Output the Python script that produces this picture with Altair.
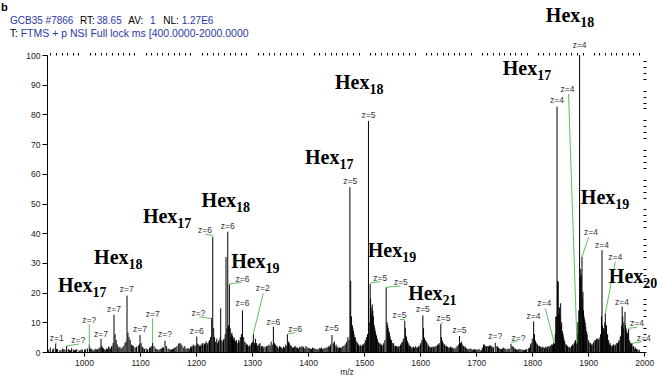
import altair as alt
import pandas as pd

# ---------------------------------------------------------------- spectrum
# centroid m/z values and relative abundance (% of base peak)
peak_mz = [
    940, 944, 949.5, 953, 957, 962, 966, 969, 974, 978, 983, 987, 991, 995,
    1003, 1006, 1009.5, 1012, 1016, 1020, 1024, 1027, 1030.4, 1033, 1036, 1040, 1044, 1047, 1050,
    1053.6, 1055.5, 1057.5, 1059.5, 1062, 1066, 1070, 1073, 1076.8, 1078.5, 1080.5, 1082.5, 1085,
    1088, 1091, 1094, 1097, 1100, 1102, 1105, 1108, 1111, 1114, 1117, 1120, 1122.5, 1125, 1128,
    1132, 1136, 1140, 1144.6, 1147, 1150, 1154, 1158, 1162, 1166, 1169, 1171, 1173, 1175, 1178,
    1182, 1186, 1190, 1193, 1196, 1198, 1201.3, 1203, 1206, 1209, 1212, 1215, 1218, 1221, 1224,
    1226, 1227.9, 1229.8, 1231.5, 1233, 1235, 1238, 1241, 1244, 1246, 1248, 1250, 1252, 1253.5,
    1256.6, 1258, 1259.5, 1261, 1263, 1265, 1267, 1269, 1271, 1273, 1276, 1279, 1282.8, 1285,
    1287, 1290, 1293, 1296, 1299, 1302.3, 1304, 1306, 1308, 1311, 1314, 1317, 1320, 1323, 1326,
    1330, 1334, 1338, 1340, 1343, 1346, 1349, 1352, 1356, 1360, 1363, 1367, 1370, 1374, 1377,
    1381, 1385, 1389, 1392, 1396, 1400, 1404, 1408, 1412, 1416, 1420, 1424, 1428, 1432, 1436,
    1440, 1442.5, 1445, 1448, 1451, 1454, 1458, 1462, 1466, 1469, 1471, 1474.6, 1476, 1477.5,
    1479, 1481, 1483, 1485, 1488, 1491, 1494, 1497, 1500, 1502, 1504, 1507.7, 1510.7, 1512.5,
    1514.5, 1516.5, 1519, 1521, 1523.5, 1526, 1529, 1532, 1535, 1539.3, 1541, 1543, 1545, 1547,
    1550, 1553, 1556, 1559, 1562, 1565, 1568, 1572.5, 1574.5, 1576.5, 1578.5, 1581, 1584, 1588,
    1592, 1595, 1598, 1601, 1604.8, 1607, 1609, 1612, 1615, 1618, 1621, 1624, 1628, 1631, 1634,
    1636.8, 1639, 1641, 1644, 1647, 1650, 1654, 1658, 1662, 1666, 1670.2, 1672, 1675, 1678, 1681,
    1685, 1689, 1693, 1697, 1701, 1705, 1709, 1713, 1716, 1719, 1722, 1725, 1728, 1731, 1734,
    1738, 1741, 1745, 1749, 1753, 1757, 1762, 1764, 1767, 1770, 1774, 1778, 1782, 1786, 1790,
    1795, 1798, 1800, 1802.5, 1805, 1807, 1810, 1813, 1816, 1819, 1822, 1825, 1828, 1831, 1834,
    1837, 1839.8, 1842, 1844.2, 1846.4, 1848.5, 1850.7, 1852.5, 1855, 1857, 1860, 1863, 1866,
    1869, 1872, 1875, 1877, 1879.8, 1881.5, 1884.5, 1886.5, 1888.8, 1890.5, 1892.5, 1894.5, 1897,
    1900, 1903, 1906, 1909, 1912, 1915, 1918, 1921, 1924.5, 1926.5, 1928.5, 1930.4, 1932.5,
    1934.5, 1936.5, 1939, 1942, 1945, 1948, 1951, 1954, 1957, 1960.5, 1962.5, 1965.5, 1967.5,
    1969.5, 1972, 1974, 1976, 1978, 1981, 1984, 1987, 1991,
]
peak_rel = [
    1.5, 0.8, 2.7, 1.0, 0.6, 1.2, 0.8, 2.0, 0.7, 1.3, 0.6, 1.0, 0.5, 0.8,
    0.9, 1.2, 2.5, 1.0, 0.7, 1.1, 0.8, 1.4, 4.4, 1.5, 0.9, 1.2, 1.8, 1.0, 2.0,
    12.5, 6.0, 4.0, 2.5, 1.5, 1.2, 2.0, 3.0, 19.0, 6.5, 5.0, 4.0, 2.5,
    2.0, 1.5, 1.8, 2.2, 5.7, 3.0, 1.5, 1.0, 1.2, 0.8, 1.5, 2.0, 3.1, 2.0, 1.2,
    0.8, 1.0, 1.5, 3.8, 2.0, 1.2, 0.8, 1.0, 1.5, 2.0, 2.8, 3.0, 2.8, 2.2, 1.5,
    1.0, 1.3, 1.8, 2.2, 2.5, 2.0, 5.2, 2.8, 2.0, 2.5, 3.0, 2.8, 3.5, 3.0, 4.0,
    5.0, 11.5, 38.8, 8.0, 5.0, 3.5, 3.0, 4.0, 14.7, 4.0, 3.5, 4.5, 6.0, 32.0,
    40.5, 9.0, 22.8, 8.0, 6.0, 5.5, 4.5, 4.0, 3.5, 3.0, 4.0, 5.0, 14.0, 5.0,
    3.5, 2.5, 2.0, 2.2, 3.0, 6.0, 3.0, 4.5, 3.0, 2.5, 3.0, 2.0, 1.5, 1.8, 2.0,
    2.5, 3.5, 8.5, 3.0, 2.0, 1.5, 2.0, 1.5, 1.8, 2.5, 6.0, 3.0, 2.0, 1.5, 2.0,
    1.5, 1.8, 2.0, 1.5, 2.0, 1.5, 1.2, 1.5, 1.2, 1.0, 1.3, 1.5, 1.2, 1.5, 2.0,
    2.5, 5.7, 3.0, 2.0, 1.5, 1.2, 1.5, 2.0, 2.5, 3.5, 5.0, 55.5, 24.0, 12.0,
    9.0, 7.0, 5.0, 4.0, 3.0, 2.0, 2.0, 2.5, 3.0, 4.0, 5.0, 77.8, 23.0, 15.0,
    16.0, 12.0, 8.0, 6.0, 4.5, 3.0, 2.5, 2.0, 3.0, 21.8, 10.0, 8.0, 6.5, 4.5,
    3.0, 2.5, 2.0, 1.8, 2.0, 2.5, 3.5, 10.5, 5.5, 4.0, 3.0, 2.0, 1.5, 1.8,
    2.0, 1.5, 2.0, 3.0, 12.3, 5.0, 4.0, 3.0, 2.0, 1.5, 1.8, 1.5, 2.0, 2.5, 3.0,
    9.4, 4.0, 3.0, 2.5, 2.0, 1.5, 1.8, 1.5, 1.2, 2.0, 5.4, 3.0, 2.5, 2.0, 1.5,
    1.0, 1.2, 0.8, 1.0, 0.8, 1.0, 0.7, 2.5, 2.0, 2.0, 1.8, 2.2, 2.0, 1.5, 3.1,
    1.8, 1.2, 1.0, 1.5, 1.0, 1.2, 2.7, 2.0, 1.5, 1.0, 0.8, 1.0, 0.8, 0.7, 1.0,
    1.5, 3.0, 4.5, 10.3, 4.0, 3.0, 2.5, 2.0, 1.5, 1.8, 1.2, 1.5, 2.0, 1.5, 2.5,
    2.0, 2.9, 11.9, 82.6, 23.7, 15.0, 16.4, 10.0, 6.0, 4.0, 2.5, 2.0, 1.5,
    1.5, 2.5, 3.0, 4.0, 2.9, 10.0, 100.0, 28.0, 32.1, 20.3, 12.0, 10.0, 7.0,
    4.0, 3.0, 2.5, 3.0, 4.0, 4.5, 4.0, 5.0, 34.3, 8.0, 7.0, 13.0, 9.0,
    6.0, 4.0, 3.0, 2.0, 2.5, 2.0, 3.0, 3.5, 5.0, 15.3, 8.0, 13.5, 8.0,
    6.0, 7.8, 3.5, 3.0, 2.9, 2.0, 1.5, 1.0, 0.8,
]

# weaker centroids filling the baseline between the main peaks
minor_mz = [
    937, 946, 951, 959, 964, 972, 976, 981, 985, 993,
    997, 1001, 1010.5, 1014, 1018, 1022, 1025, 1029, 1032, 1035,
    1038, 1042, 1046, 1049, 1052, 1064, 1068, 1075, 1087, 1093,
    1099, 1104, 1107, 1113, 1119, 1130, 1134, 1138, 1142, 1152,
    1156, 1160, 1164, 1180, 1184, 1188, 1192, 1195, 1200, 1205,
    1208, 1211, 1214, 1217, 1220, 1223, 1237, 1240, 1243, 1249,
    1255, 1262, 1264, 1266, 1268, 1270, 1272, 1275, 1278, 1281,
    1289, 1292, 1295, 1298, 1301, 1305, 1310, 1313, 1316, 1319,
    1325, 1328, 1332, 1336, 1342, 1345, 1348, 1351, 1354, 1358,
    1362, 1365, 1369, 1372, 1376, 1379, 1383, 1387, 1391, 1394,
    1398, 1402, 1406, 1410, 1414, 1418, 1422, 1426, 1430, 1434,
    1438, 1447, 1450, 1453, 1456, 1460, 1464, 1468, 1473, 1480,
    1482, 1484, 1487, 1490, 1493, 1496, 1499, 1503, 1506, 1509,
    1511.5, 1513.5, 1515.5, 1518, 1520, 1522, 1525, 1528, 1531, 1534,
    1537, 1542, 1544, 1546, 1549, 1552, 1555, 1558, 1561, 1564,
    1567, 1570, 1573.5, 1575.5, 1577.5, 1580, 1583, 1586, 1590, 1594,
    1597, 1600, 1603, 1606, 1608, 1611, 1614, 1617, 1620, 1623,
    1626, 1630, 1633, 1638, 1640, 1643, 1646, 1649, 1652, 1656,
    1660, 1664, 1668, 1674, 1677, 1680, 1683, 1687, 1691, 1695,
    1699, 1703, 1707, 1711, 1715, 1718, 1721, 1724, 1727, 1730,
    1737, 1740, 1743, 1747, 1751, 1755, 1759, 1766, 1769, 1772,
    1776, 1780, 1784, 1788, 1793, 1797, 1804, 1806, 1809, 1812,
    1815, 1818, 1821, 1824, 1827, 1830, 1833, 1836, 1838, 1841,
    1843, 1845.3, 1847.5, 1849.5, 1851.5, 1854, 1856, 1858, 1861, 1864,
    1867, 1870, 1873, 1876, 1878, 1880.5, 1883, 1885.5, 1887.5, 1889.5,
    1891.5, 1893.5, 1895.5, 1898, 1901, 1904, 1907, 1910, 1913, 1916,
    1919, 1922, 1923.5, 1925.5, 1927.5, 1929.5, 1931.5, 1933.5, 1935.5, 1938,
    1940, 1943, 1946, 1949, 1952, 1955, 1958, 1959.5, 1961.5, 1963.5,
    1966.5, 1968.5, 1970.5, 1973, 1975, 1977, 1980, 1983, 1986, 1989,
]
minor_rel = [
    0.8, 1.2, 1.0, 0.7, 0.9, 1.0, 0.6, 0.8, 0.7, 0.6,
    0.8, 0.8, 1.8, 1.0, 0.6, 0.9, 1.0, 1.5, 2.0, 1.2,
    0.7, 1.0, 1.5, 1.8, 3.0, 1.8, 1.4, 3.5, 2.2, 1.6,
    2.5, 1.8, 1.2, 0.9, 1.4, 1.0, 0.7, 1.2, 1.5, 1.0,
    0.8, 1.2, 1.6, 2.0, 1.2, 1.0, 1.6, 1.8, 2.2, 2.5,
    2.0, 2.8, 2.2, 3.0, 2.5, 3.5, 4.5, 3.5, 5.0, 4.0,
    8.0, 5.0, 6.5, 4.0, 5.0, 3.5, 4.0, 3.0, 3.5, 6.0,
    3.0, 2.5, 1.8, 2.5, 3.5, 2.5, 2.0, 2.5, 1.5, 2.0,
    1.5, 2.0, 2.0, 2.5, 2.5, 1.8, 1.2, 1.8, 1.2, 1.5,
    2.0, 3.5, 2.2, 1.5, 1.8, 1.5, 1.2, 1.6, 1.8, 1.2,
    1.5, 1.2, 1.0, 1.2, 1.0, 0.8, 1.2, 1.0, 1.3, 1.5,
    1.8, 3.5, 2.5, 1.8, 1.5, 1.5, 2.0, 3.0, 4.0, 8.0,
    6.0, 5.0, 3.5, 2.5, 2.5, 2.0, 2.5, 3.5, 6.0, 10.0,
    18.0, 13.0, 14.0, 9.0, 7.0, 5.5, 3.5, 3.0, 2.5, 2.5,
    4.0, 9.0, 7.0, 5.5, 4.0, 3.0, 2.0, 2.0, 1.5, 2.0,
    3.0, 4.5, 8.0, 5.0, 3.5, 2.5, 2.0, 1.5, 1.5, 1.5,
    1.8, 2.5, 4.0, 8.0, 4.5, 3.5, 2.5, 1.8, 1.5, 1.8,
    1.8, 2.0, 2.5, 5.0, 3.5, 2.5, 2.0, 1.8, 1.5, 1.5,
    1.2, 1.5, 2.5, 3.5, 2.0, 1.8, 1.2, 1.0, 1.0, 0.8,
    0.8, 0.8, 0.6, 1.5, 2.5, 1.8, 2.0, 2.2, 1.8, 1.5,
    2.0, 1.5, 1.0, 1.2, 1.2, 0.8, 1.0, 1.8, 1.2, 0.8,
    1.0, 0.8, 0.7, 0.8, 1.2, 2.5, 6.0, 3.5, 2.5, 2.0,
    1.8, 1.5, 1.5, 1.8, 1.5, 2.0, 2.0, 2.5, 3.0, 6.0,
    12.0, 24.0, 13.0, 12.0, 9.0, 7.0, 5.0, 3.5, 2.5, 1.8,
    1.5, 2.0, 2.5, 3.5, 3.5, 6.0, 14.0, 25.0, 26.0, 18.0,
    14.0, 11.0, 8.5, 6.0, 3.5, 3.0, 2.5, 3.5, 4.0, 4.5,
    4.5, 6.0, 12.0, 9.0, 8.0, 10.0, 8.0, 5.5, 3.5, 2.5,
    2.2, 2.2, 2.5, 2.5, 3.0, 4.0, 5.5, 9.0, 12.0, 10.0,
    9.0, 7.0, 6.5, 4.0, 3.0, 2.5, 1.8, 1.2, 1.0, 0.6,
]

# ---------------------------------------------------------------- charge-state tags
z_text = [
    "z=1", "z=?", "z=?", "z=7", "z=7", "z=7", "z=7", "z=7", "z=?", "z=6",
    "z=?", "z=6", "z=6", "z=6", "z=6", "z=2", "z=6", "z=6", "z=5", "z=5",
    "z=5", "z=5", "z=5", "z=5", "z=5", "z=5", "z=5", "z=?", "z=?", "z=4",
    "z=4", "z=4", "z=4", "z=4", "z=4", "z=4", "z=4", "z=4", "z=4", "z=4",
]
z_mz = [
    951.3, 989.8, 1009.5, 1030.4, 1053.6, 1076.3, 1100.0, 1122.7, 1144.6, 1201.3,
    1204.1, 1216.1, 1256.6, 1282.7, 1282.7, 1319.1, 1338.0, 1376.8, 1442.3, 1475.0,
    1507.7, 1528.6, 1565.5, 1563.0, 1604.8, 1641.6, 1670.2, 1733.9, 1775.5, 1802.3,
    1821.4, 1844.1, 1863.0, 1884.5, 1904.8, 1924.5, 1948.2, 1960.2, 1987.0, 1998.8,
]
z_rel = [
    4.6, 4.0, 10.8, 6.1, 14.4, 21.1, 7.7, 12.8, 6.0, 7.2,
    13.0, 41.1, 42.5, 24.5, 16.4, 21.4, 10.2, 7.6, 8.0, 57.7,
    79.8, 24.8, 23.5, 12.5, 14.5, 11.3, 7.4, 5.4, 4.6, 12.1,
    16.4, 84.8, 88.5, 103.4, 40.5, 36.0, 32.1, 16.9, 9.7, 4.6,
]

# leader lines joining a tag to its peak
lead_mz = [950.5, 969.0, 1009.5, 1122.5, 1205.9, 1216.1, 1259.5, 1320.0, 1363.0, 1512.0,
           1539.3, 1564.3, 1640.5, 1773.8, 1823.2, 1864.8, 1900.5, 1948.2, 1986.9, 1995.7]
lead_rel = [3.4, 2.0, 9.3, 11.3, 11.9, 39.7, 22.9, 19.8, 6.0, 23.3,
            21.8, 11.0, 10.2, 3.8, 14.7, 86.9, 38.6, 30.4, 8.3, 3.5]
lead_mz2 = [949.5, 991.0, 1009.5, 1122.5, 1227.9, 1229.8, 1281.6, 1302.3, 1376.8, 1528.6,
            1564.3, 1573.2, 1636.8, 1762.0, 1839.8, 1879.8, 1888.8, 1930.4, 1972.0, 1978.0]
lead_rel2 = [2.6, 2.7, 1.2, 3.1, 11.2, 39.2, 23.5, 6.1, 6.5, 23.7,
             22.2, 10.8, 9.4, 3.1, 2.7, 2.9, 32.1, 13.0, 8.0, 2.9]

# ---------------------------------------------------------------- glycan series labels
hex_sub = ["17", "18", "17", "18", "19", "17", "18", "19", "21", "17", "18", "19", "20"]
hex_mz = [1015.2, 1079.5, 1166.6, 1271.4, 1324.1, 1455.9, 1509.5, 1567.9, 1640.0,
          1808.9, 1885.7, 1948.2, 1998.2]
hex_rel = [20.2, 29.6, 43.5, 48.9, 28.3, 63.3, 88.5, 32.0, 17.5, 93.3, 111.1, 49.8, 23.2]

x_ticks = list(range(1000, 2001, 100))
y_ticks = list(range(0, 101, 10))
x_minor = [v for v in range(940, 2001, 10) if v % 100]
y_minor = [v for v in range(0, 101, 2) if v % 10]

spec_df = pd.DataFrame({"mz": peak_mz + minor_mz, "rel": peak_rel + minor_rel})
z_df = pd.DataFrame({"mz": z_mz, "rel": z_rel, "txt": z_text})
lead_df = pd.DataFrame({"mz": lead_mz, "rel": lead_rel, "mz2": lead_mz2, "rel2": lead_rel2})
hex_df = pd.DataFrame({"mz": hex_mz, "rel": hex_rel, "sub": hex_sub})
single = pd.DataFrame({"n": [0]})  # one row, so each header piece is drawn once

SANS = "Liberation Sans"
SERIF = "Liberation Serif"
BLUE = "#2b37a8"

xs = alt.Scale(domain=[934, 2003], nice=False, zero=False)
ys = alt.Scale(domain=[0, 100], nice=False)

ax_x = alt.Axis(values=x_ticks, format="d", title="m/z", grid=False, tickSize=4,
                tickColor="black", domainColor="black", labelFont=SANS, labelFontSize=8.5,
                labelColor="#222", labelPadding=2, titleFont=SANS, titleFontSize=8.5,
                titleFontWeight="normal", titleColor="#222", titlePadding=1)
ax_y = alt.Axis(values=y_ticks, title=None, grid=False, tickSize=5, tickColor="black",
                domainColor="black", labelFont=SANS, labelFontSize=8.5, labelColor="#222",
                labelPadding=2)
ax_x_minor = alt.Axis(values=x_minor, labels=False, title=None, domain=False, grid=False,
                      tickSize=2.5, tickColor="black")
ax_y_minor = alt.Axis(values=y_minor, labels=False, title=None, domain=False, grid=False,
                      tickSize=3, tickColor="black", offset=-3)

spectrum = alt.Chart(spec_df).mark_rule(color="black", strokeWidth=1).encode(
    x=alt.X("mz:Q", scale=xs, axis=ax_x),
    y=alt.Y("rel:Q", scale=ys, axis=ax_y),
    y2=alt.datum(0),
)

leaders = alt.Chart(lead_df).mark_rule(color="#5cc25c", strokeWidth=1).encode(
    x=alt.X("mz:Q", scale=xs, axis=ax_x_minor),
    y=alt.Y("rel:Q", scale=ys, axis=ax_y_minor),
    x2="mz2:Q",
    y2="rel2:Q",
)

z_tags = alt.Chart(z_df).mark_text(font=SANS, fontSize=8.5, color="#333",
                                   baseline="middle", align="center").encode(
    x=alt.X("mz:Q", scale=xs, axis=None),
    y=alt.Y("rel:Q", scale=ys, axis=None),
    text="txt:N",
)

hex_main = alt.Chart(hex_df).mark_text(font=SERIF, fontSize=20, fontWeight="bold",
                                       color="black", align="right",
                                       baseline="alphabetic").encode(
    x=alt.X("mz:Q", scale=xs, axis=None),
    y=alt.Y("rel:Q", scale=ys, axis=None),
    text=alt.value("Hex"),
)
hex_index = alt.Chart(hex_df).mark_text(font=SERIF, fontSize=14, fontWeight="bold",
                                        color="black", align="left", baseline="alphabetic",
                                        dy=5).encode(
    x=alt.X("mz:Q", scale=xs, axis=None),
    y=alt.Y("rel:Q", scale=ys, axis=None),
    text="sub:N",
)

# scan header above the plot: (text, colour, x, baseline y, size) in plot pixels
header = [
    ("GCB35 #7866", BLUE, -37, -31, 10),
    ("RT:", "black", 33, -31, 10),
    ("38.65", BLUE, 49.7, -31, 10),
    ("AV:", "black", 81.3, -31, 10),
    ("1", BLUE, 103, -31, 10),
    ("NL:", "black", 116.3, -31, 10),
    ("1.27E6", BLUE, 134.7, -31, 10),
    ("T:", "black", -37, -18, 10),
    ("FTMS + p NSI Full lock ms [400.0000-2000.0000", BLUE, -26.3, -18, 10.5),
]
header_layers = [
    alt.Chart(single).mark_text(font=SANS, fontSize=fs, color=col, align="left",
                                baseline="alphabetic").encode(
        x=alt.value(px), y=alt.value(py), text=alt.value(txt))
    for txt, col, px, py, fs in header
]
panel_letter = alt.Chart(single).mark_text(font=SANS, fontSize=11, fontWeight="bold",
                                           color="black", align="left",
                                           baseline="alphabetic").encode(
    x=alt.value(-46), y=alt.value(-44), text=alt.value("b"))

chart = alt.layer(
    spectrum, leaders, z_tags, hex_main, hex_index, *header_layers, panel_letter
).resolve_axis(x="independent", y="independent").properties(
    width=599, height=297,
    autosize=alt.AutoSizeParams(type="none"),
    padding={"left": 47, "top": 55, "right": 11, "bottom": 31},
    background="white",
).configure_view(stroke=None)

chart.save("out.html", embed_options={"renderer": "svg", "actions": False})
